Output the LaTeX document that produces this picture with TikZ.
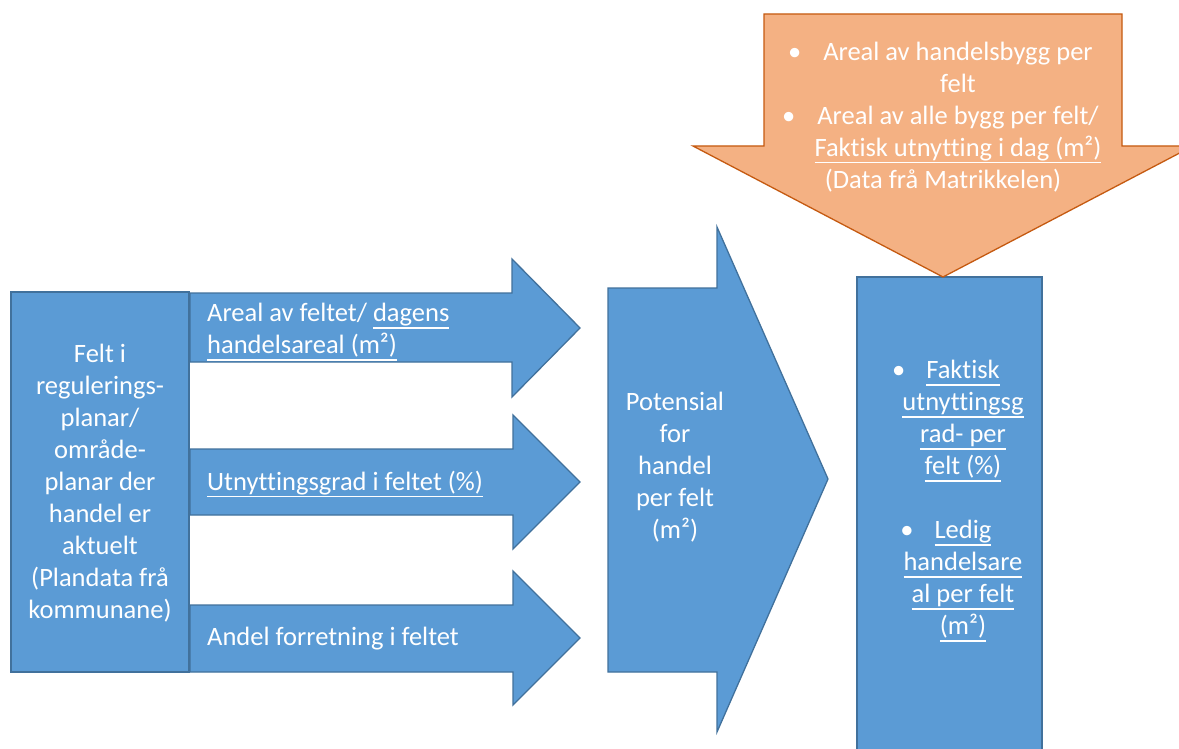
\documentclass[tikz,border=0pt]{standalone}
\usepackage{fontspec}
\setmainfont{Carlito}[Ligatures={NoCommon}]
\definecolor{bluefill}{HTML}{5B9BD5}
\definecolor{blueedge}{HTML}{41719C}
\definecolor{orangefill}{HTML}{F4B183}
\definecolor{orangeedge}{HTML}{C55A11}
\tikzset{
  blueshape/.style={fill=bluefill, draw=blueedge, line width=1.3pt, line join=miter},
  orangeshape/.style={fill=orangefill, draw=orangeedge, line width=1.3pt, line join=miter},
  txt/.style={text=white, font=\fontsize{26.5}{32}\selectfont, inner sep=0pt},
}
\newcommand{\bul}[1]{\llap{\textbullet\hspace{#1}}}
\newcommand{\uln}[1]{\setbox0\hbox{#1}\rlap{\rule[-7pt]{\wd0}{1.4pt}}\box0}
\begin{document}
\begin{tikzpicture}[x=1pt,y=-1pt]
\clip (0,0) rectangle (1179,749);
\fill[white] (0,0) rectangle (1179,749);
% three input arrows
\draw[blueshape] (190,293)--(512,293)--(512,259)--(580,328)--(512,397)--(512,362)--(190,362)--cycle;
\draw[blueshape] (190,449)--(513,449)--(513,415)--(580,482)--(513,549)--(513,515)--(190,515)--cycle;
\draw[blueshape] (190,605)--(513,605)--(513,571)--(580,638)--(513,705)--(513,672)--(190,672)--cycle;
% left box
\draw[blueshape] (11,292) rectangle (189,672);
% big arrow
\draw[blueshape] (608,288)--(717,288)--(717,227)--(828,479)--(717,732)--(717,672)--(608,672)--cycle;
% right box
\draw[blueshape] (857,277) rectangle (1042,760);
% orange down arrow
\draw[orangeshape] (764,14)--(1122,14)--(1122,146)--(1193,146)--(943,277)--(693,146)--(764,146)--cycle;

% texts
\node[txt, align=center] (felt) at (100,483) {Felt i\\regulerings-\\planar/\\område-\\planar der\\handel er\\aktuelt\\(Plandata frå\\kommunane)};
\node[txt, align=left, anchor=west] (areal) at (207,332) {Areal av feltet/ \uln{dagens}\\\uln{handelsareal (m²)}};
\node[txt, anchor=west] (utn) at (207,484) {\uln{Utnyttingsgrad i feltet (\%)}};
\node[txt, anchor=west] (andel) at (207,639) {Andel forretning i feltet};
\node[txt, align=center] (pot) at (675,467) {Potensial\\for\\handel\\per felt\\(m²)};
\node[txt, align=center] (res) at (963,501) {\bul{21pt}\uln{Faktisk}\\\uln{utnyttingsg}\\\uln{rad- per}\\\uln{felt (\%)}\\[32pt]\bul{21pt}\uln{Ledig}\\\uln{handelsare}\\\uln{al per felt}\\\uln{(m²)}};
\node[txt, align=center] (data) at (958,117) {\bul{22pt}Areal av handelsbygg per\\felt\\\bul{22pt}Areal av alle bygg per felt/\\\uln{Faktisk utnytting i dag (m²)}\\\mbox{(Data frå Matrikkelen)\hspace{30pt}}};
\end{tikzpicture}
\end{document}
